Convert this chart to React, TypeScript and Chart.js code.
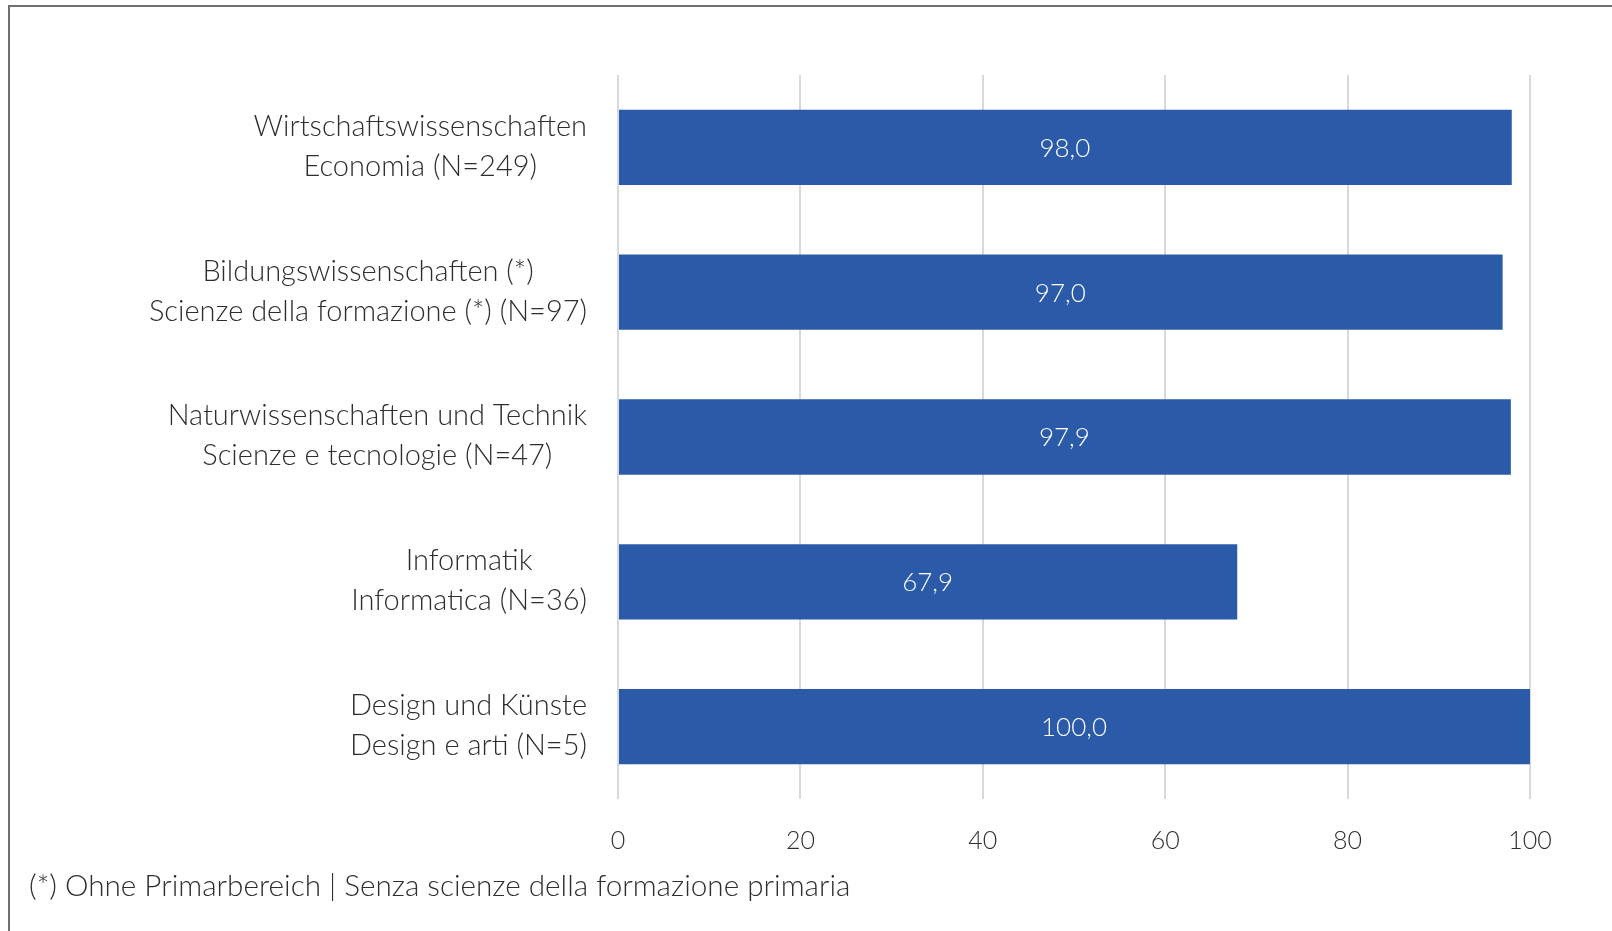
import React, { useEffect, useRef } from "react";
import { Chart, registerables } from "chart.js";

Chart.register(...registerables);

const categoriesDe = [
  "Wirtschaftswissenschaften",
  "Bildungswissenschaften (*)",
  "Naturwissenschaften und Technik",
  "Informatik",
  "Design und Künste",
];
const categoriesIt = [
  "Economia (N=249)",
  "Scienze della formazione (*) (N=97)",
  "Scienze e tecnologie (N=47)",
  "Informatica (N=36)",
  "Design e arti (N=5)",
];
const values = [98.0, 97.0, 97.9, 67.9, 100.0];
const xTicks = [0, 20, 40, 60, 80, 100];
const footnote = "(*) Ohne Primarbereich | Senza scienze della formazione primaria";

const FONT_FAMILY = "Lato, 'Noto Sans', sans-serif";
const LABEL_SIZE = 29;
const TICK_SIZE = 25;
const VALUE_SIZE = 26;
const FOOT_SIZE = 29.7;
const TEXT_COLOR = "#2e2e2e";
const BAR_COLOR = "#2B5BA8";

const labelPlugin = {
  id: "customLabels",
  afterDraw(chart: any) {
    const ctx = chart.ctx;
    const y = chart.scales.y;
    const x = chart.scales.x;
    const labelRight = 587;
    ctx.save();
    ctx.font = `300 ${LABEL_SIZE}px ${FONT_FAMILY}`;
    ctx.textBaseline = "middle";
    ctx.textAlign = "center";
    ctx.fillStyle = TEXT_COLOR;
    for (let i = 0; i < categoriesDe.length; i++) {
      const cy = y.getPixelForValue(i);
      const w = Math.max(
        ctx.measureText(categoriesDe[i]).width,
        ctx.measureText(categoriesIt[i]).width
      );
      const cx = labelRight - w / 2;
      ctx.fillText(categoriesDe[i], cx, cy - 21);
      ctx.fillText(categoriesIt[i], cx, cy + 19);
    }
    // value labels
    ctx.font = `300 ${VALUE_SIZE}px ${FONT_FAMILY}`;
    ctx.fillStyle = "#ffffff";
    for (let i = 0; i < values.length; i++) {
      const cy = y.getPixelForValue(i);
      const x0 = x.getPixelForValue(0);
      const x1 = x.getPixelForValue(values[i]);
      ctx.fillText(values[i].toFixed(1).replace(".", ","), (x0 + x1) / 2, cy + 1);
    }
    // footnote
    ctx.font = `300 ${FOOT_SIZE}px ${FONT_FAMILY}`;
    ctx.fillStyle = TEXT_COLOR;
    ctx.textAlign = "left";
    ctx.fillText(footnote, 29, 886);
    ctx.restore();
  },
};

export default function App() {
  const canvasRef = useRef<HTMLCanvasElement | null>(null);

  useEffect(() => {
    if (!canvasRef.current) return;
    const chart = new Chart(canvasRef.current, {
      type: "bar",
      data: {
        labels: categoriesDe,
        datasets: [
          {
            data: values,
            backgroundColor: BAR_COLOR,
            borderWidth: 0,
            categoryPercentage: 1,
            barPercentage: 0.52,
          },
        ],
      },
      options: {
        indexAxis: "y",
        animation: false,
        responsive: false,
        maintainAspectRatio: false,
        layout: { padding: { left: 618, right: 82, top: 75, bottom: 72 } },
        plugins: {
          legend: { display: false },
          tooltip: { enabled: false },
        },
        scales: {
          x: {
            min: 0,
            max: 100,
            afterBuildTicks(scale: any) {
              scale.ticks = xTicks.map((v) => ({ value: v }));
            },
            afterFit(scale: any) {
              scale.height = 60;
            },
            border: { display: false },
            grid: { color: "#d9d9d9", lineWidth: 2, drawTicks: false },
            ticks: {
              padding: 27,
              color: TEXT_COLOR,
              font: { family: FONT_FAMILY, size: TICK_SIZE, weight: 300 as any },
            },
          },
          y: {
            display: false,
          },
        },
      },
      plugins: [labelPlugin],
    });
    return () => chart.destroy();
  }, []);

  return (
    <div style={{ position: "fixed", left: 0, top: 0, width: 1612, height: 931, background: "#fff" }}>
      <div
        style={{
          position: "absolute",
          left: 8,
          top: 5,
          width: 1620,
          height: 940,
          borderTop: "2px solid #707070",
          borderLeft: "2px solid #707070",
        }}
      />
      <canvas
        ref={canvasRef}
        width={1612}
        height={931}
        style={{ position: "absolute", left: 0, top: 0, width: 1612, height: 931 }}
      />
    </div>
  );
}
